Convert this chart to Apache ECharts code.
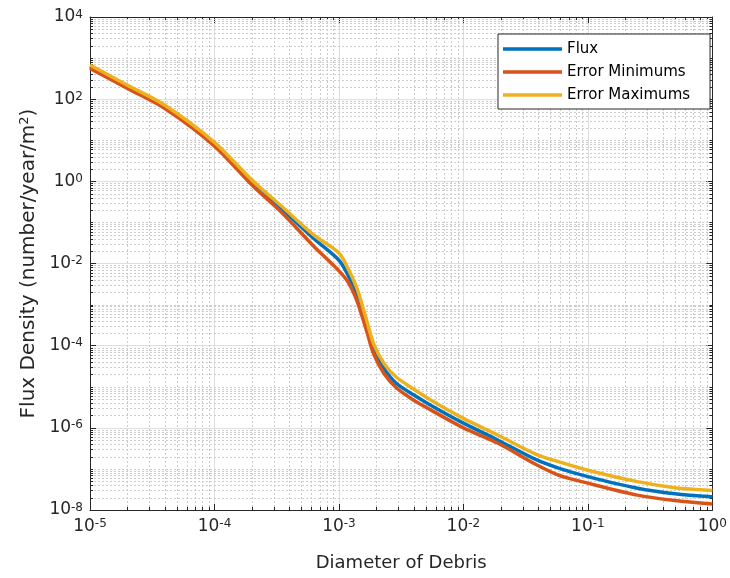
<!DOCTYPE html>
<html>
<head>
<meta charset="utf-8">
<title>Flux Density vs Diameter of Debris</title>
<script src="https://cdn.jsdelivr.net/npm/echarts@6/dist/echarts.min.js"></script>
<style>
  html, body { margin: 0; padding: 0; background: #ffffff; }
  #chart { width: 730px; height: 578px; }
</style>
</head>
<body>
<div id="chart"></div>
<script>
// Debris diameter samples (x) and the three flux curves (y)
const diameters = [1e-5, 2e-5, 4e-5, 1e-4, 2e-4, 3.5e-4, 6.3e-4, 1e-3, 1.2e-3, 1.4e-3,
  1.66e-3, 1.9e-3, 2.3e-3, 2.9e-3, 4e-3, 5.5e-3, 1e-2, 1.9e-2, 3.8e-2, 5.8e-2,
  1e-1, 2.5e-1, 5e-1, 1];
const fluxValues = [620, 200, 65, 8.1, 0.93, 0.21, 0.040, 0.012, 4.8e-3, 1.7e-3,
  3.2e-4, 8.3e-5, 2.8e-5, 1.2e-5, 6.3e-6, 3.5e-6, 1.3e-6, 5.0e-7, 1.7e-7, 1.05e-7,
  6.5e-8, 3.4e-8, 2.5e-8, 2.1e-8];
const errorMinimums = [560, 182, 59, 7.2, 0.81, 0.17, 0.026, 6.6e-3, 3.3e-3, 1.2e-3,
  2.4e-4, 6.3e-5, 2.1e-5, 9.3e-6, 4.7e-6, 2.7e-6, 1.0e-6, 4.2e-7, 1.3e-7, 7.1e-8,
  4.5e-8, 2.3e-8, 1.7e-8, 1.4e-8];
const errorMaximums = [680, 219, 71, 8.9, 1.07, 0.24, 0.049, 0.018, 6.9e-3, 2.4e-3,
  4.4e-4, 1.1e-4, 3.7e-5, 1.7e-5, 8.7e-6, 4.7e-6, 1.7e-6, 6.6e-7, 2.3e-7, 1.5e-7,
  9.3e-8, 4.9e-8, 3.5e-8, 3.0e-8];

const seriesNames = ['Flux', 'Error Minimums', 'Error Maximums'];
const seriesColors = ['#0072BD', '#D95319', '#EDB120'];

// Axis ranges and labelled decades (exponents of ten)
const xExponents = [-5, -4, -3, -2, -1, 0];
const yExponents = [-8, -6, -4, -2, 0, 2, 4];
const xTitle = 'Diameter of Debris';
const yTitleParts = ['Flux Density (number/year/m', '2', ')'];

const xMin = Math.pow(10, xExponents[0]);
const xMax = Math.pow(10, xExponents[xExponents.length - 1]);
const yMin = Math.pow(10, yExponents[0]);
const yMax = Math.pow(10, yExponents[yExponents.length - 1]);

const AXIS_COLOR = '#262626';
const FONT = '"DejaVu Sans", "Liberation Sans", Arial, sans-serif';

// Minor grid positions: 2..9 within each decade; on y also the unlabelled odd decades
const minorItems = [];
for (let e = xExponents[0]; e < xExponents[xExponents.length - 1]; e++) {
  for (let m = 2; m <= 9; m++) minorItems.push([m * Math.pow(10, e), yMin, 0]);
}
for (let e = yExponents[0]; e < yExponents[yExponents.length - 1]; e++) {
  if (yExponents.indexOf(e) < 0) minorItems.push([xMin, Math.pow(10, e), 1]);
  for (let m = 2; m <= 9; m++) minorItems.push([xMin, m * Math.pow(10, e), 1]);
}

function powerLabel(v) {
  const e = Math.round(Math.log10(v));
  return '{b|10}{s|' + e + '}';
}
const powerRich = {
  b: { fontFamily: FONT, fontSize: 17, color: AXIS_COLOR, lineHeight: 17, verticalAlign: 'bottom', padding: [6, 0, 0, 0] },
  s: { fontFamily: FONT, fontSize: 12, color: AXIS_COLOR, lineHeight: 12, verticalAlign: 'top' }
};

function boxAxis(position) {
  return {
    type: 'log', logBase: 10, position: position,
    axisLine: { show: true, onZero: false, lineStyle: { color: AXIS_COLOR, width: 1 } },
    axisTick: { show: true, inside: true, length: 6, lineStyle: { color: AXIS_COLOR, width: 1 } },
    axisLabel: { show: false },
    splitLine: { show: false }
  };
}

const chart = echarts.init(document.getElementById('chart'), null, { renderer: 'canvas' });

const curveValues = [fluxValues, errorMinimums, errorMaximums];
const lineSeries = seriesNames.map((name, i) => ({
  name: name,
  type: 'line',
  xAxisIndex: 0,
  yAxisIndex: 0,
  data: diameters.map((d, k) => [d, curveValues[i][k]]),
  showSymbol: false,
  symbol: 'none',
  smooth: 0.3,
  lineStyle: { color: seriesColors[i], width: 3.5 },
  itemStyle: { color: seriesColors[i] },
  z: 3,
  silent: true,
  animation: false
}));

const option = {
  animation: false,
  backgroundColor: '#ffffff',
  grid: { left: 90, right: 15, top: 17, bottom: 68 },
  xAxis: [
    {
      type: 'log', logBase: 10, min: xMin, max: xMax, interval: 1, position: 'bottom',
      name: xTitle, nameLocation: 'middle', nameGap: 44,
      nameTextStyle: { fontFamily: FONT, fontSize: 18, color: AXIS_COLOR },
      axisLine: { show: true, onZero: false, lineStyle: { color: AXIS_COLOR, width: 1 } },
      axisTick: { show: true, inside: true, length: 6, lineStyle: { color: AXIS_COLOR, width: 1 } },
      axisLabel: { show: true, margin: 8, formatter: powerLabel, rich: powerRich, showMinLabel: true, showMaxLabel: true },
      splitLine: { show: true, lineStyle: { color: '#dedede', width: 1, type: 'solid' } }
    },
    Object.assign(boxAxis('top'), { min: xMin, max: xMax, interval: 1 })
  ],
  yAxis: [
    {
      type: 'log', logBase: 10, min: yMin, max: yMax, interval: 2, position: 'left',
      name: '{t|' + yTitleParts[0] + '}{u|' + yTitleParts[1] + '}{t|' + yTitleParts[2] + '}',
      nameLocation: 'middle', nameGap: 48, nameRotate: 90,
      nameTextStyle: {
        fontFamily: FONT, fontSize: 20, color: AXIS_COLOR,
        rich: {
          t: { fontFamily: FONT, fontSize: 20, color: AXIS_COLOR, lineHeight: 20, verticalAlign: 'bottom', padding: [7, 0, 0, 0] },
          u: { fontFamily: FONT, fontSize: 13, color: AXIS_COLOR, lineHeight: 13, verticalAlign: 'top' }
        }
      },
      axisLine: { show: true, onZero: false, lineStyle: { color: AXIS_COLOR, width: 1 } },
      axisTick: { show: true, inside: true, length: 6, lineStyle: { color: AXIS_COLOR, width: 1 } },
      axisLabel: { show: true, margin: 7, formatter: powerLabel, rich: powerRich, showMinLabel: true, showMaxLabel: true },
      splitLine: { show: true, lineStyle: { color: '#dedede', width: 1, type: 'solid' } }
    },
    Object.assign(boxAxis('right'), { min: yMin, max: yMax, interval: 2 })
  ],
  legend: {
    data: seriesNames,
    orient: 'vertical',
    left: 498,
    top: 34,
    icon: 'rect',
    itemWidth: 59,
    itemHeight: 3.5,
    itemGap: 5,
    padding: [6, 20, 5, 5],
    borderColor: AXIS_COLOR,
    borderWidth: 1,
    borderRadius: 0,
    backgroundColor: '#ffffff',
    selectedMode: false,
    textStyle: { fontFamily: FONT, fontSize: 15, color: '#000000', lineHeight: 18 }
  },
  series: [
    {
      // dotted minor grid and the short inward minor ticks on all four edges
      type: 'custom',
      xAxisIndex: 0,
      yAxisIndex: 0,
      silent: true,
      clip: false,
      z: 1,
      encode: { x: 0, y: 1 },
      data: minorItems,
      renderItem: function (params, api) {
        const cs = params.coordSys;
        const kind = api.value(2);
        const grid = { stroke: '#cdcdcd', lineWidth: 1, lineDash: [2, 2] };
        const tick = { stroke: AXIS_COLOR, lineWidth: 1 };
        const children = [];
        if (kind === 0) {
          const x = Math.round(api.coord([api.value(0), yMin])[0]) + 0.5;
          const top = cs.y, bottom = cs.y + cs.height;
          children.push({ type: 'line', shape: { x1: x, y1: top, x2: x, y2: bottom }, style: grid });
          children.push({ type: 'line', shape: { x1: x, y1: bottom, x2: x, y2: bottom - 3 }, style: tick });
          children.push({ type: 'line', shape: { x1: x, y1: top, x2: x, y2: top + 3 }, style: tick });
        } else {
          const y = Math.round(api.coord([xMin, api.value(1)])[1]) + 0.5;
          const left = cs.x, right = cs.x + cs.width;
          children.push({ type: 'line', shape: { x1: left, y1: y, x2: right, y2: y }, style: grid });
          children.push({ type: 'line', shape: { x1: left, y1: y, x2: left + 3, y2: y }, style: tick });
          children.push({ type: 'line', shape: { x1: right, y1: y, x2: right - 3, y2: y }, style: tick });
        }
        return { type: 'group', children: children };
      }
    }
  ].concat(lineSeries)
};

chart.setOption(option);
</script>
</body>
</html>
